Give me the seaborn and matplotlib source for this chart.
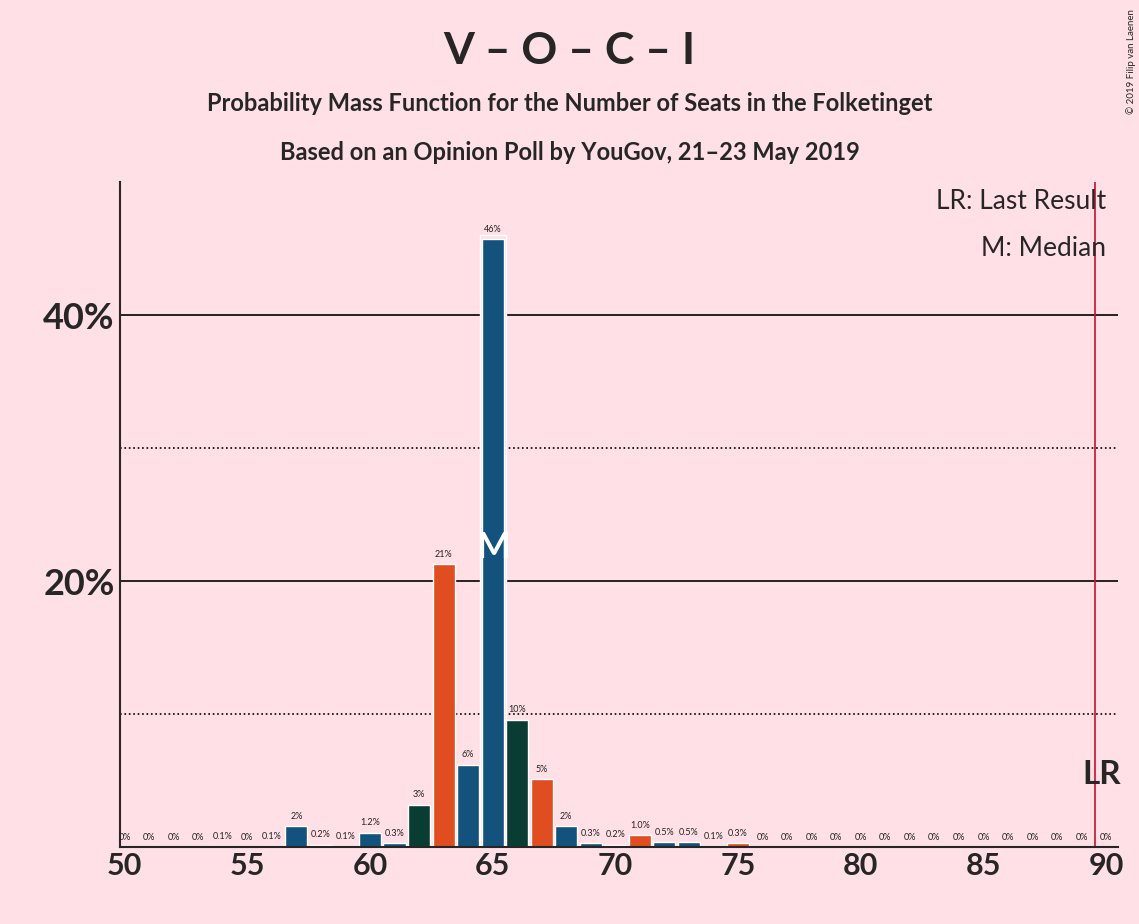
import numpy as np
import pandas as pd
import seaborn as sns
import matplotlib.pyplot as plt

seats = list(range(50, 91))
probs = [0, 0, 0, 0, 0.1, 0, 0.1, 1.6, 0.2, 0.1,
         1.1, 0.3, 3.2, 21.3, 6.2, 45.7, 9.6, 5.1, 1.6, 0.3,
         0.2, 0.9, 0.4, 0.4, 0.1, 0.3] + [0] * 15
labels = ["0%", "0%", "0%", "0%", "0.1%", "0%", "0.1%", "2%", "0.2%", "0.1%",
          "1.2%", "0.3%", "3%", "21%", "6%", "46%", "10%", "5%", "2%", "0.3%",
          "0.2%", "1.0%", "0.5%", "0.5%", "0.1%", "0.3%"] + ["0%"] * 15

blue, orange, green, gray = "#00558F", "#FF3C00", "#004638", "#BDBDBD"
col_map = {57: blue, 58: gray, 60: blue, 61: blue, 62: green, 63: orange, 64: blue,
           65: blue, 66: green, 67: orange, 68: blue, 69: blue, 70: gray, 71: orange,
           72: blue, 73: blue, 75: orange}
colors = [col_map.get(s, blue) for s in seats]

df = pd.DataFrame({"seats": seats, "prob": probs})
bg = "#FFE0E6"
sns.set_style("white")
plt.rcParams['font.family'] = ['Lato', 'DejaVu Sans']

fig = plt.figure(figsize=(11.39, 9.24), dpi=100, facecolor=bg)
ax = fig.add_axes([0.105, 0.083, 0.877, 0.72], facecolor=bg)

for y, ls in [(10, ':'), (20, '-'), (30, ':'), (40, '-')]:
    ax.axhline(y, color='black', lw=1.2, ls=ls, zorder=0)

sns.barplot(data=df, x="seats", y="prob", palette=colors, hue="seats", legend=False,
            native_scale=True, width=0.9, ax=ax, zorder=2)
# white gap behind the median bar
ax.bar(65, 46, width=1.05, color=bg, zorder=1)

for s, p, l in zip(seats, probs, labels):
    ax.text(s, p + 0.4, l, ha='center', va='bottom', fontsize=6.5, color='#222222')

ax.text(65, 22.5, "M", ha='center', va='center', fontsize=26, color='white',
        fontweight='bold', zorder=3)
ax.axvline(89.55, color='#C8102E', lw=1.2)
ax.text(90.6, 5.5, "LR", ha='right', va='center', fontsize=24, fontweight='bold')
ax.text(90, 48.5, "LR: Last Result", ha='right', va='center', fontsize=19)
ax.text(90, 45, "M: Median", ha='right', va='center', fontsize=19)

ax.set_xlim(49.8, 90.5)
ax.set_ylim(0, 50)
ax.set_xticks(range(50, 91, 5))
ax.set_yticks([20, 40])
ax.set_yticklabels(["20%", "40%"])
ax.tick_params(axis='x', labelsize=22, length=0)
ax.tick_params(axis='y', labelsize=26, length=0)
for t in ax.get_xticklabels() + ax.get_yticklabels():
    t.set_fontweight('bold')
ax.set_xlabel("")
ax.set_ylabel("")
for sp in ['top', 'right']:
    ax.spines[sp].set_visible(False)
ax.spines['left'].set_linewidth(1.5)
ax.spines['bottom'].set_linewidth(1.5)

fig.text(0.5, 0.945, "V – O – C – I", ha='center', va='center', fontsize=32, fontweight='bold')
fig.text(0.5, 0.888, "Probability Mass Function for the Number of Seats in the Folketinget",
         ha='center', va='center', fontsize=17, fontweight='bold')
fig.text(0.5, 0.835, "Based on an Opinion Poll by YouGov, 21–23 May 2019",
         ha='center', va='center', fontsize=17, fontweight='bold')
fig.text(0.993, 0.99, "© 2019 Filip van Laenen", rotation=90, ha='center', va='top', fontsize=7)

fig.savefig("out.png", dpi=100, facecolor=bg)
